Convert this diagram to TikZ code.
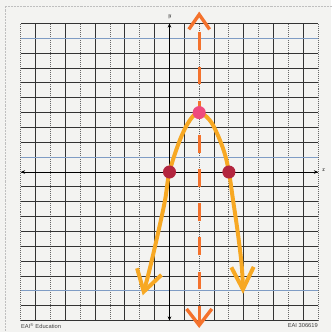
\documentclass[tikz,border=0pt]{standalone}
\usepackage{fontspec}
\setsansfont{Liberation Sans}
\usetikzlibrary{arrows.meta}
\definecolor{paper}{HTML}{F3F3F1}
\definecolor{gridgray}{HTML}{333333}
\definecolor{gridblue}{HTML}{7F9CC4}
\definecolor{markerorange}{HTML}{F7A823}
\definecolor{dashorange}{HTML}{F4722C}
\definecolor{vertexpink}{HTML}{EE4A7E}
\definecolor{rootred}{HTML}{B3263F}

\begin{document}
\begin{tikzpicture}[x=0.5cm, y=0.5cm,
    gridsolid/.style={gridgray, line width=0.9pt},
    griddotted/.style={gridgray!75, line width=0.9pt, densely dotted},
    axisline/.style={black, line width=0.9pt, {Stealth[length=4pt,width=3.5pt]}-{Stealth[length=4pt,width=3.5pt]}},
    symline/.style={dashorange, line width=3.2pt, dash pattern=on 0.6cm off 0.55cm,
      {Straight Barb[length=0.55cm,width=0.85cm]}-{Straight Barb[length=0.5cm,width=0.7cm]}},
    curve/.style={markerorange, line width=3.8pt, line cap=round, line join=round,
      {Straight Barb[length=0.7cm,width=0.85cm]}-{Straight Barb[length=0.75cm,width=0.75cm]}},
    point/.style={circle, inner sep=0pt, minimum size=0.44cm},
    axislabel/.style={font=\fontsize{6}{6}\selectfont\itshape, inner sep=0pt},
    brand/.style={font=\sffamily\fontsize{5.5}{6}\selectfont, text=black!75, inner sep=0pt}]
    % Page: bounding box and paper
    \useasboundingbox (-11.41,-10.77) rectangle (10.88,11.58);
    \fill[paper] (-11.41,-10.77) rectangle (10.88,11.58);
    \draw[black!25, densely dotted] (-11.07,-10.77) -- (-11.07,11.18) -- (10.88,11.18);
    % Grid: vertical lines alternate dotted and solid
    \foreach \i in {-10,-8,...,10}
      \draw[griddotted] (\i,-10) -- (\i,10);
    \foreach \i in {-9,-7,...,9}
      \draw[gridsolid] (\i,-10) -- (\i,10);
    % Grid: horizontal lines, a few printed in blue
    \foreach \j in {-10,...,10}
      \draw[gridsolid] (-10,\j) -- (10,\j);
    \foreach \j in {9,1,-8}
      \draw[gridblue, line width=0.9pt] (-10,\j) -- (10,\j);
    % Axes
    \coordinate (xleft)  at (-10,0);
    \coordinate (xright) at (10,0);
    \coordinate (ybot)   at (0,-10);
    \coordinate (ytop)   at (0,10);
    \draw[axisline] (xleft) -- (xright);
    \draw[axisline] (ybot) -- (ytop);
    \node[axislabel] (xlab) at (10.35,0.1) {x};
    \node[axislabel] (ylab) at (0,10.45) {y};
    % Axis of symmetry x = 2
    \coordinate (symtop) at (2,10.8);
    \coordinate (symbot) at (2,-10.5);
    \draw[symline] (symbot) -- (symtop);
    % Parabola, hand traced
    \draw[curve] plot[smooth, tension=0.6] coordinates {(-1.8,-8.3) (-1.3,-6.4) (-0.77,-4.1) (-0.3,-1.9) (0,0)
      (0.7,2.15) (1.38,3.5) (2,4) (2.7,3.5) (3.2,2.6) (3.7,1.3) (4,0)
      (4.28,-1.9) (4.6,-4.1) (4.87,-6.4) (4.95,-8.2)};
    % Vertex and x-intercepts
    \node[point, fill=vertexpink] (vertex) at (2,4) {};
    \node[point, fill=rootred]    (rootl)  at (0,0) {};
    \node[point, fill=rootred]    (rootr)  at (4,0) {};
    % Printer marks
    \node[brand, anchor=west] (maker)   at (-10,-10.35) {EAI\textsuperscript{®} Education};
    \node[brand, anchor=east] (catalog) at (10,-10.35)  {EAI 306619};
  \end{tikzpicture}
\end{document}
